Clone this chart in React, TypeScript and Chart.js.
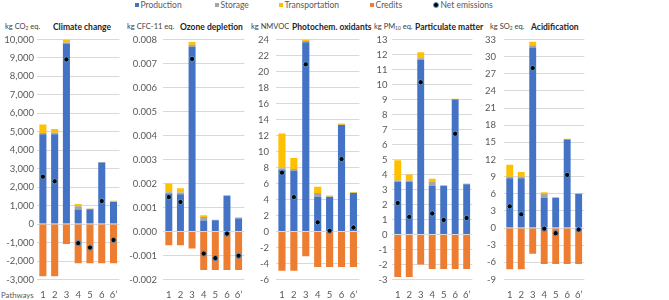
import React, { useEffect, useRef } from 'react';
import { Chart, registerables } from 'chart.js';

Chart.register(...registerables);

const categories = ['1', '2', '3', '4', '5', '6', '6’'];

// Climate change (kg CO2 eq.)
const prodCC = [4870, 4870, 9780, 790, 810, 3340, 1200];
const storCC = [60, 80, 60, 180, 25, 10, 30];
const tranCC = [470, 200, 160, 120, 15, 20, 30];
const credCC = [-2830, -2830, -1080, -2120, -2120, -2120, -2120];
const netCC = [2570, 2320, 8920, -1030, -1270, 1250, -860];

// Ozone depletion (kg CFC-11 eq.)
const prodOD = [0.00158, 0.00155, 0.00769, 0.00046, 0.00047, 0.00149, 0.00054];
const storOD = [0.00006, 0.00007, 0.00009, 0.00014, 0.00001, 0.00001, 0.00002];
const tranOD = [0.00036, 0.00018, 0.00012, 0.00008, 0.00001, 0.00001, 0.00003];
const credOD = [-0.00057, -0.00057, -0.00071, -0.0016, -0.0016, -0.0016, -0.0016];
const netOD = [0.00143, 0.00123, 0.00719, -0.00092, -0.00111, -0.00009, -0.00101];

// Photochemical oxidants (kg NMVOC)
const prodPO = [7.7, 7.6, 23.65, 4.35, 4.3, 13.3, 4.8];
const storPO = [0.2, 0.2, 0.15, 0.45, 0.08, 0.05, 0.05];
const tranPO = [4.35, 1.4, 0.2, 0.8, 0.12, 0.15, 0.1];
const credPO = [-4.9, -4.9, -3.1, -4.45, -4.45, -4.45, -4.45];
const netPO = [7.35, 4.3, 20.9, 1.15, 0.1, 9.05, 0.5];

// Particulate matter (kg PM10 eq.)
const prodPM = [3.5, 3.5, 11.64, 3.24, 3.24, 9.0, 3.35];
const storPM = [0.1, 0.1, 0.11, 0.26, 0.03, 0.02, 0.02];
const tranPM = [1.35, 0.4, 0.4, 0.22, 0.03, 0.03, 0.03];
const credPM = [-2.83, -2.83, -2.0, -2.3, -2.3, -2.3, -2.3];
const netPM = [2.1, 1.18, 10.15, 1.4, 0.97, 6.72, 1.1];

// Acidification (kg SO2 eq.)
const prodAC = [8.7, 8.7, 31.6, 5.27, 5.27, 15.5, 5.96];
const storAC = [0.3, 0.3, 0.4, 0.7, 0.05, 0.05, 0.04];
const tranAC = [2.1, 0.8, 0.6, 0.28, 0.1, 0.1, 0.1];
const credAC = [-7.2, -7.2, -4.5, -6.3, -6.3, -6.3, -6.3];
const netAC = [3.8, 2.4, 28.0, -0.1, -0.9, 9.3, -0.25];

const seriesNames = ['Production', 'Storage', 'Transportation', 'Credits', 'Net emissions'];

const COLORS = {
  prod: '#4472C4',
  stor: '#A5A5A5',
  tran: '#FFC000',
  cred: '#ED7D31',
  netFill: '#000000',
  netBorder: '#5B9BD5',
  grid: '#D9D9D9',
  tick: '#595959',
};

const FONT = 'Lato, "Liberation Sans", sans-serif';
const YW = 40;

type PanelDef = {
  unit: React.ReactNode;
  title: string;
  prod: number[];
  stor: number[];
  tran: number[];
  cred: number[];
  net: number[];
  min: number;
  max: number;
  step: number;
  fmt: (v: number) => string;
  left: number;
  right: number;
  pad: number;
  unitX: number;
  titleX: number;
};

const fmtThousands = (v: number) => Math.round(v).toLocaleString('en-US');
const fmt3 = (v: number) => (Math.abs(v) < 1e-9 ? '0.000' : v.toFixed(3));
const fmt0 = (v: number) => String(Math.round(v));

const panels: PanelDef[] = [
  {
    unit: <>kg CO<sub>2</sub> eq.</>, title: 'Climate change',
    prod: prodCC, stor: storCC, tran: tranCC, cred: credCC, net: netCC,
    min: -3000, max: 10000, step: 1000, fmt: fmtThousands,
    left: 37, right: 123, pad: 3, unitX: 5, titleX: 53,
  },
  {
    unit: <>kg CFC-11 eq.</>, title: 'Ozone depletion',
    prod: prodOD, stor: storOD, tran: tranOD, cred: credOD, net: netOD,
    min: -0.002, max: 0.008, step: 0.001, fmt: fmt3,
    left: 163, right: 248, pad: 6, unitX: 127, titleX: 180,
  },
  {
    unit: <>kg NMVOC</>, title: 'Photochem. oxidants',
    prod: prodPO, stor: storPO, tran: tranPO, cred: credPO, net: netPO,
    min: -6, max: 24, step: 2, fmt: fmt0,
    left: 276, right: 363, pad: 7, unitX: 251, titleX: 292,
  },
  {
    unit: <>kg PM<sub>10</sub> eq.</>, title: 'Particulate matter',
    prod: prodPM, stor: storPM, tran: tranPM, cred: credPM, net: netPM,
    min: -3, max: 13, step: 1, fmt: fmt0,
    left: 392, right: 476, pad: 4.5, unitX: 374, titleX: 415,
  },
  {
    unit: <>kg SO<sub>2</sub> eq.</>, title: 'Acidification',
    prod: prodAC, stor: storAC, tran: tranAC, cred: credAC, net: netAC,
    min: -9, max: 33, step: 3, fmt: fmt0,
    left: 504, right: 588, pad: 8, unitX: 490, titleX: 531,
  },
];

function PanelChart({ p }: { p: PanelDef }) {
  const ref = useRef<HTMLCanvasElement>(null);
  useEffect(() => {
    if (!ref.current) return;
    const barCommon = { stack: 's', order: 1, barPercentage: 0.6, categoryPercentage: 1, borderWidth: 0 };
    const chart = new Chart(ref.current, {
      type: 'bar',
      data: {
        labels: categories,
        datasets: [
          {
            type: 'line',
            label: seriesNames[4],
            data: p.net,
            showLine: false,
            pointRadius: 2.6,
            pointHoverRadius: 2.6,
            pointBackgroundColor: COLORS.netFill,
            pointBorderColor: COLORS.netBorder,
            pointBorderWidth: 1,
            order: 0,
            stack: 'net',
          } as any,
          { ...barCommon, label: seriesNames[0], data: p.prod, backgroundColor: COLORS.prod } as any,
          { ...barCommon, label: seriesNames[1], data: p.stor, backgroundColor: COLORS.stor } as any,
          { ...barCommon, label: seriesNames[2], data: p.tran, backgroundColor: COLORS.tran } as any,
          { ...barCommon, label: seriesNames[3], data: p.cred, backgroundColor: COLORS.cred } as any,
        ],
      },
      options: {
        animation: false,
        responsive: true,
        maintainAspectRatio: false,
        layout: { padding: { top: 39.5, bottom: 0, left: 0, right: 0 } },
        plugins: { legend: { display: false }, tooltip: { enabled: false }, title: { display: false } },
        scales: {
          x: {
            stacked: true,
            offset: true,
            grid: { display: false, drawTicks: false },
            border: { display: false },
            ticks: {
              font: { family: FONT, size: 9.5 },
              color: COLORS.tick,
              padding: 10,
              maxRotation: 0,
              autoSkip: false,
            },
            afterFit: (s: any) => {
              s.height = 20.5;
              s.paddingLeft = 0;
              s.paddingRight = 0;
            },
          },
          y: {
            stacked: true,
            min: p.min,
            max: p.max,
            grid: { color: COLORS.grid, lineWidth: 1, drawTicks: false },
            border: { display: false },
            ticks: {
              stepSize: p.step,
              font: { family: FONT, size: 9.5 },
              color: COLORS.tick,
              padding: p.pad,
              callback: (v: any) => p.fmt(Number(v)),
            },
            afterFit: (s: any) => {
              s.width = YW;
              s.paddingTop = 0;
              s.paddingBottom = 0;
            },
          },
        },
      } as any,
    });
    return () => chart.destroy();
  }, [p]);
  return (
    <div style={{ position: 'absolute', left: p.left - YW, top: 0, width: YW + p.right - p.left, height: 300 }}>
      <canvas ref={ref} />
    </div>
  );
}

const legendItems = [
  { name: seriesNames[0], color: COLORS.prod, x: 135, shape: 'sq' },
  { name: seriesNames[1], color: COLORS.stor, x: 215, shape: 'sq' },
  { name: seriesNames[2], color: COLORS.tran, x: 279, shape: 'sq' },
  { name: seriesNames[3], color: COLORS.cred, x: 370, shape: 'sq' },
  { name: seriesNames[4], color: COLORS.netFill, x: 433, shape: 'dot' },
];

const textBase: React.CSSProperties = {
  position: 'absolute',
  fontFamily: FONT,
  whiteSpace: 'nowrap',
  lineHeight: '12px',
  height: 12,
};

export default function App() {
  return (
    <div style={{ position: 'absolute', left: 0, top: 0, width: 669, height: 300, background: '#fff', overflow: 'hidden' }}>
      {legendItems.map((it) => (
        <div key={it.name} style={{ ...textBase, left: it.x, top: -1, fontSize: 8.5, color: COLORS.tick }}>
          {it.shape === 'sq' ? (
            <span style={{ display: 'inline-block', width: 4, height: 4, background: it.color, marginRight: 1.5, verticalAlign: 'middle', position: 'relative', top: -1 }} />
          ) : (
            <span style={{ display: 'inline-block', width: 4, height: 4, borderRadius: '50%', background: it.color, border: `1px solid ${COLORS.netBorder}`, marginRight: 1.5, verticalAlign: 'middle', position: 'relative', top: -1 }} />
          )}
          {it.name}
        </div>
      ))}
      {panels.map((p) => (
        <React.Fragment key={p.title}>
          <div style={{ ...textBase, left: p.unitX, top: 20.5, fontSize: 7.5, color: '#404040' }}>{p.unit}</div>
          <div style={{ ...textBase, left: p.titleX, top: 20.5, fontSize: 8.5, fontWeight: 700, color: '#262626' }}>{p.title}</div>
        </React.Fragment>
      ))}
      <div style={{ ...textBase, left: 1, top: 289, fontSize: 7.8, color: COLORS.tick }}>Pathways</div>
      {panels.map((p) => (
        <PanelChart key={'c' + p.title} p={p} />
      ))}
      <style>{`sub{font-size:65%;vertical-align:-1px;line-height:0}`}</style>
    </div>
  );
}
